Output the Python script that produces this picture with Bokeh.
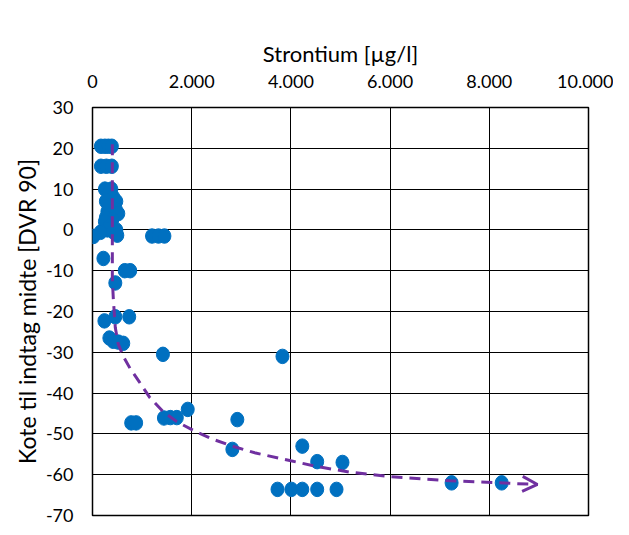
from bokeh.plotting import figure
from bokeh.models import FixedTicker, Title, Arrow, OpenHead, ColumnDataSource
from bokeh.embed import file_html
from bokeh.resources import INLINE

# ---- data ----
x_ticks = [0, 2000, 4000, 6000, 8000, 10000]
x_tick_labels = ["0", "2.000", "4.000", "6.000", "8.000", "10.000"]
y_ticks = [-70, -60, -50, -40, -30, -20, -10, 0, 10, 20, 30]
y_tick_labels = ["-70", "-60", "-50", "-40", "-30", "-20", "-10", "0", "10", "20", "30"]

strontium = [
    170, 250, 320, 390,
    170, 280, 390,
    250, 380, 330, 420, 270, 480, 350, 470, 300, 520, 270, 400, 250, 350, 480, 300, 160, 420, 500,
    20,
    1200, 1330, 1450,
    220,
    650, 760,
    460,
    240, 460, 740,
    340, 420, 520, 620,
    1420,
    3830,
    780, 880,
    1440, 1570, 1700,
    1920,
    2920,
    2820,
    4230,
    4530, 5040,
    3730, 4010, 4230, 4530, 4920,
    7240, 8250,
]
kote = [
    20.5, 20.5, 20.5, 20.5,
    15.6, 15.6, 15.6,
    10, 10, 9, 8, 7, 7, 6, 5, 4.5, 4, 3, 2.5, 2, 1, 0, 0, -0.6, -0.5, -1.3,
    -1.6,
    -1.5, -1.5, -1.5,
    -7,
    -10, -10,
    -13,
    -22.3, -21.3, -21.3,
    -26.5, -27.3, -27.5, -27.8,
    -30.5,
    -31,
    -47.3, -47.3,
    -46.1, -46, -46,
    -44,
    -46.5,
    -53.8,
    -53,
    -56.8, -57,
    -63.6, -63.6, -63.6, -63.6, -63.6,
    -62, -62,
]

trend_x = [400, 400, 400, 420, 460, 520, 620, 760, 930, 1150, 1430, 1700, 2040,
           2400, 2820, 3290, 4000, 4530, 5200, 6010, 7220, 8200, 8970]
trend_y = [21, 0, -12, -17, -24, -28, -31, -34, -37, -41, -44.6, -47, -49.2,
           -51.2, -53, -54.7, -56.6, -58, -59.4, -60.5, -61.5, -62.0, -62.4]

FONT = "Lato"

p = figure(width=613, height=531, frame_width=496, frame_height=408,
           min_border_left=92, min_border_right=25, min_border_top=107, min_border_bottom=16,
           x_range=(0, 10000), y_range=(-70, 30), x_axis_location="above",
           output_backend="svg", toolbar_location=None,
           background_fill_color="white", border_fill_color="white")

p.outline_line_color = "black"
p.outline_line_width = 1.5

for ax in (p.xaxis[0], p.yaxis[0]):
    ax.axis_line_color = None
    ax.major_tick_line_color = None
    ax.minor_tick_line_color = None
    ax.major_tick_out = 0
    ax.major_tick_in = 0
    ax.minor_tick_out = 0
    ax.major_label_text_font = FONT
    ax.major_label_text_color = "black"

p.xaxis.ticker = FixedTicker(ticks=x_ticks)
p.xaxis.major_label_overrides = {t: l for t, l in zip(x_ticks, x_tick_labels)}
p.xaxis.major_label_text_font_size = "18px"
p.xaxis.major_label_standoff = 20

p.yaxis.ticker = FixedTicker(ticks=y_ticks)
p.yaxis.major_label_overrides = {t: l for t, l in zip(y_ticks, y_tick_labels)}
p.yaxis.major_label_text_font_size = "18px"
p.yaxis.major_label_standoff = 19

p.xgrid.ticker = FixedTicker(ticks=x_ticks)
p.ygrid.ticker = FixedTicker(ticks=y_ticks)
p.grid.grid_line_color = "black"
p.grid.grid_line_width = 1

p.title.text = "Strontium [µg/l]"
p.title.align = "center"
p.title.text_font = FONT
p.title.text_font_size = "22px"
p.title.text_font_style = "normal"
p.title.text_color = "black"
p.title.standoff = 9

ytitle = Title(text="Kote til indtag midte [DVR 90]", align="center", offset=-4,
               text_font=FONT, text_font_size="23px", text_font_style="normal",
               text_color="black", standoff=4)
p.add_layout(ytitle, "left")

src = ColumnDataSource(dict(x=strontium, y=kote))
p.ellipse(x="x", y="y", width=13, height=14.5, width_units="screen", height_units="screen",
          source=src, fill_color="#0070C0", line_color="#0070C0")

p.line(trend_x, trend_y, line_color="#7030A0", line_width=3, line_dash="11 7")
p.add_layout(Arrow(end=OpenHead(size=15, line_color="#7030A0", line_width=3),
                   x_start=trend_x[-2], y_start=trend_y[-2],
                   x_end=trend_x[-1], y_end=trend_y[-1],
                   line_alpha=0))

open("out.html", "w").write(file_html(p, INLINE))
